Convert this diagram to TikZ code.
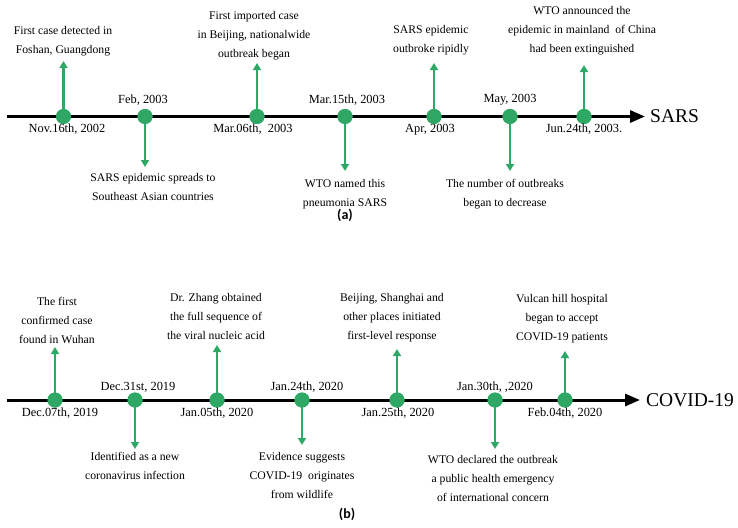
\documentclass[tikz,border=0pt]{standalone}
\usepackage{fontspec}
\setmainfont{Liberation Serif}
\newfontfamily\labfont{Carlito}
\usetikzlibrary{arrows.meta}
\definecolor{tlgreen}{RGB}{46,168,100}
\tikzset{
  axis/.style={line width=3pt, -{Triangle[length=15pt,width=12pt]}},
  dot/.style={circle, fill=tlgreen, inner sep=0pt, minimum size=15pt},
  garrow/.style={tlgreen, line width=2.2pt, -{Triangle[length=7pt,width=8pt]}},
  desc/.style={align=center, inner sep=0pt, font=\fontsize{11.7}{19}\selectfont},
  datel/.style={inner sep=0pt, font=\fontsize{12.4}{15}\selectfont},
  tltitle/.style={inner sep=0pt, anchor=west, font=\fontsize{19.5}{22}\selectfont},
  captext/.style={inner sep=0pt, font=\labfont\bfseries\fontsize{14}{16}\selectfont}
}
\begin{document}
\begin{tikzpicture}[x=1pt,y=-1pt]
\useasboundingbox (0,0) rectangle (738,527);
% ---------------- SARS ----------------
\coordinate (sa0) at (7,116.5);
\coordinate (sa1) at (645,116.5);
\draw[axis] (sa0) -- (sa1);
\node[tltitle] (sars) at (650,116.5) {SARS};
\node[dot] (s1) at (63.5,116.5) {};
\node[dot] (s2) at (145,116.5) {};
\node[dot] (s3) at (257,116.5) {};
\node[dot] (s4) at (345,116.5) {};
\node[dot] (s5) at (434,116.5) {};
\node[dot] (s6) at (510,116.5) {};
\node[dot] (s7) at (584,116.5) {};
\coordinate (s1t) at (63.5,61);
\coordinate (s2t) at (145,167);
\coordinate (s3t) at (257,63);
\coordinate (s4t) at (345,171);
\coordinate (s5t) at (434,63);
\coordinate (s6t) at (510,171);
\coordinate (s7t) at (584,65);
\draw[garrow] (s1.center) -- (s1t);
\draw[garrow] (s2.center) -- (s2t);
\draw[garrow] (s3.center) -- (s3t);
\draw[garrow] (s4.center) -- (s4t);
\draw[garrow] (s5.center) -- (s5t);
\draw[garrow] (s6.center) -- (s6t);
\draw[garrow] (s7.center) -- (s7t);
\foreach \n in {s1,s2,s3,s4,s5,s6,s7} \node[dot] at (\n) {};
% dates
\node[datel] (ds1) at (67,129.5) {Nov.16th, 2002};
\node[datel] (ds2) at (143,100) {Feb, 2003};
\node[datel] (ds3) at (253,129.5) {Mar.06th,\ \ 2003};
\node[datel] (ds4) at (347,100) {Mar.15th, 2003};
\node[datel] (ds5) at (430,129.5) {Apr, 2003};
\node[datel] (ds6) at (510,100) {May, 2003};
\node[datel] (ds7) at (584,129.5) {Jun.24th, 2003.};
% descriptions
\node[desc, anchor=south] (es1) at (63,56) {First case detected in\\Foshan, Guangdong};
\node[desc, anchor=north] (es2) at (153,173) {SARS epidemic spreads to\\Southeast Asian countries};
\node[desc, anchor=south] (es3) at (254,60) {First imported case\\in Beijing, nationalwide\\outbreak began};
\node[desc, anchor=north] (es4) at (345,179) {WTO named this\\pneumonia SARS};
\node[desc, anchor=south] (es5) at (431,55) {SARS epidemic\\outbroke ripidly};
\node[desc, anchor=south] (es6) at (582,55) {WTO announced the\\epidemic in mainland\ \ of China\\had been extinguished};
\node[desc, anchor=north] (es7) at (505,179) {The number of outbreaks\\began to decrease};
\node[captext] (capa) at (345,215) {(a)};
% ---------------- COVID-19 ----------------
\coordinate (cv0) at (7,400);
\coordinate (cv1) at (640,400);
\draw[axis] (cv0) -- (cv1);
\node[tltitle] (covid) at (646,400) {COVID-19};
\node[dot] (c1) at (55,400) {};
\node[dot] (c2) at (135,400) {};
\node[dot] (c3) at (217,400) {};
\node[dot] (c4) at (302,400) {};
\node[dot] (c5) at (397,400) {};
\node[dot] (c6) at (495,400) {};
\node[dot] (c7) at (565,400) {};
\coordinate (c1t) at (55,347);
\coordinate (c2t) at (135,449);
\coordinate (c3t) at (217,345);
\coordinate (c4t) at (302,445);
\coordinate (c5t) at (397,349);
\coordinate (c6t) at (495,449);
\coordinate (c7t) at (565,351);
\draw[garrow] (c1.center) -- (c1t);
\draw[garrow] (c2.center) -- (c2t);
\draw[garrow] (c3.center) -- (c3t);
\draw[garrow] (c4.center) -- (c4t);
\draw[garrow] (c5.center) -- (c5t);
\draw[garrow] (c6.center) -- (c6t);
\draw[garrow] (c7.center) -- (c7t);
\foreach \n in {c1,c2,c3,c4,c5,c6,c7} \node[dot] at (\n) {};
% dates
\node[datel] (dc1) at (60,413) {Dec.07th, 2019};
\node[datel] (dc2) at (138,387) {Dec.31st, 2019};
\node[datel] (dc3) at (217,413) {Jan.05th, 2020};
\node[datel] (dc4) at (307,387) {Jan.24th, 2020};
\node[datel] (dc5) at (398,413) {Jan.25th, 2020};
\node[datel] (dc6) at (495,387) {Jan.30th, ,2020};
\node[datel] (dc7) at (565,413) {Feb.04th, 2020};
% descriptions
\node[desc, anchor=south] (ec1) at (57,344) {The first\\confirmed case\\found in Wuhan};
\node[desc, anchor=north] (ec2) at (135,452) {Identified as a new\\coronavirus infection};
\node[desc, anchor=south] (ec3) at (216,340) {Dr. Zhang obtained\\the full sequence of\\the viral nucleic acid};
\node[desc, anchor=north] (ec4) at (302,452) {Evidence suggests\\COVID-19\ \ originates\\from wildlife};
\node[desc, anchor=south] (ec5) at (392,342) {Beijing, Shanghai and\\other places initiated\\first-level response};
\node[desc, anchor=north] (ec6) at (493,455) {WTO declared the outbreak\\a public health emergency\\of international concern};
\node[desc, anchor=south] (ec7) at (562,343) {Vulcan hill hospital\\began to accept\\COVID-19 patients};
\node[captext] (capb) at (347,514) {(b)};
\end{tikzpicture}
\end{document}
